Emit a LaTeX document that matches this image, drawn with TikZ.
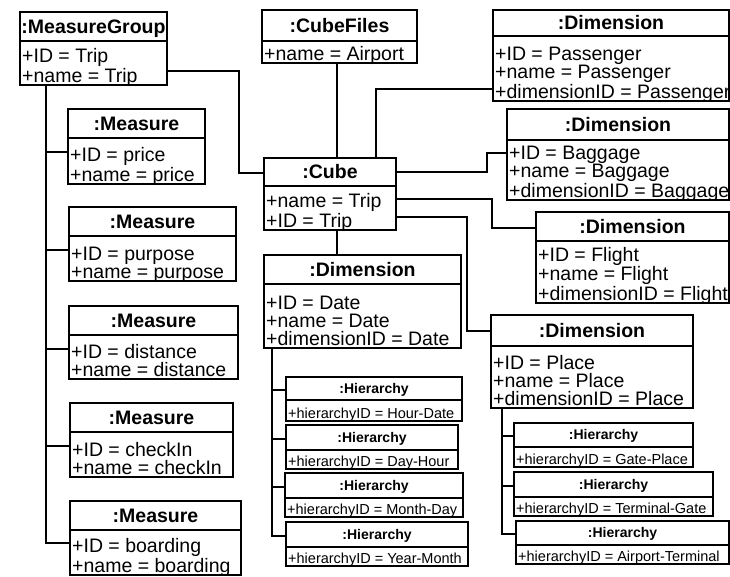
\documentclass[tikz,border=0pt]{standalone}
\usepackage{fontspec}
\setmainfont{Liberation Sans}
\usetikzlibrary{calc}

\tikzset{
  objframe/.style={draw, rectangle, line width=1.7pt, inner sep=0pt, outer sep=0pt, anchor=north west},
  objrule/.style={line width=1.4pt},
  objtitle/.style={font=\fontsize{19.5}{18}\selectfont\bfseries, anchor=base, inner sep=0pt},
  objbody/.style={font=\fontsize{19.5}{18}\selectfont, anchor=base west, align=left, inner sep=0pt},
  hiertitle/.style={font=\fontsize{14}{14}\selectfont\bfseries, anchor=base, inner sep=0pt},
  hierbody/.style={font=\fontsize{14.5}{15}\selectfont, anchor=base west, inner sep=0pt},
  link/.style={line width=1.7pt},
}

% \objbox{name}{left}{top}{right}{rule}{bottom}{title}{attributes}
% the attribute block sits on its last baseline, just above the bottom edge
\newcommand\objbox[8]{%
  \node[objframe, minimum width={#4-#2}, minimum height={#6-#3}] (#1) at (#2,#3) {};
  \draw[objrule] (#2,#5) coordinate (#1-sep) -- (#4,#5);
  \node[objtitle] (#1-t) at ({(#2+#4)/2},{(#3+#5)/2+6.8}) {#7};
  \node[objbody] (#1-b) at (#2+2,#6-3) {#8};
}
% \hierbox{name}{left}{top}{right}{rule}{bottom}{title}{attribute}
\newcommand\hierbox[8]{%
  \node[objframe, line width=1.5pt, minimum width={#4-#2}, minimum height={#6-#3}] (#1) at (#2,#3) {};
  \draw[objrule, line width=1.2pt] (#2,#5) coordinate (#1-sep) -- (#4,#5);
  \node[hiertitle] (#1-t) at ({(#2+#4)/2},{(#3+#5)/2+4.8}) {#7};
  \node[hierbody] (#1-b) at (#2+2,#6-2.5) {#8};
}

\begin{document}
\begin{tikzpicture}[x=1pt, y=-1pt]
\fill[white] (0,0) rectangle (730,576);
\useasboundingbox (0,0) rectangle (730,576);

% measure group and its measures
\objbox{mg}{20}{12}{167}{41}{85}{:MeasureGroup}{+ID = Trip\\+name = Trip}
\objbox{price}{68}{109}{205}{138}{184}{:Measure}{+ID = price\\+name = price}
\objbox{purpose}{69}{207}{236}{236}{281}{:Measure}{+ID = purpose\\+name = purpose}
\objbox{distance}{69}{306}{238}{335}{379}{:Measure}{+ID = distance\\+name = distance}
\objbox{checkin}{70}{403}{233}{432}{477}{:Measure}{+ID = checkIn\\+name = checkIn}
\objbox{boarding}{70}{501}{241}{530}{575}{:Measure}{+ID = boarding\\+name = boarding}

% cube, its file and its dimensions
\objbox{files}{262}{10}{417}{41}{63}{:CubeFiles}{+name = Airport}
\objbox{cube}{264}{158}{396}{186}{230}{:Cube}{+name = Trip\\+ID = Trip}
\objbox{passenger}{493}{10}{729}{36}{101}{:Dimension}{+ID = Passenger\\+name = Passenger\\+dimensionID = Passenger}
\objbox{baggage}{507}{109}{729}{140}{200}{:Dimension}{+ID = Baggage\\+name = Baggage\\+dimensionID = Baggage}
\objbox{flight}{536}{212}{729}{241}{303}{:Dimension}{+ID = Flight\\+name = Flight\\+dimensionID = Flight}
\objbox{date}{264}{255}{461}{284}{348}{:Dimension}{+ID = Date\\+name = Date\\+dimensionID = Date}
\objbox{place}{491}{315}{693}{346}{408}{:Dimension}{+ID = Place\\+name = Place\\+dimensionID = Place}

% hierarchies of the date dimension
\hierbox{hd1}{286}{377}{462}{400}{421}{:Hierarchy}{+hierarchyID = Hour-Date}
\hierbox{hd2}{286}{425}{458}{450}{469}{:Hierarchy}{+hierarchyID = Day-Hour}
\hierbox{hd3}{285}{473}{463}{498}{517}{:Hierarchy}{+hierarchyID = Month-Day}
\hierbox{hd4}{286}{522}{468}{547}{566}{:Hierarchy}{+hierarchyID = Year-Month}

% hierarchies of the place dimension
\hierbox{hp1}{514}{423}{693}{447}{467}{:Hierarchy}{+hierarchyID = Gate-Place}
\hierbox{hp2}{514}{472}{713}{497}{516}{:Hierarchy}{+hierarchyID = Terminal-Gate}
\hierbox{hp3}{516}{521}{729}{545}{564}{:Hierarchy}{+hierarchyID = Airport-Terminal}

% measure group tree
\coordinate (mgtrunk) at ([xshift=26pt]mg.south west);
\coordinate (boarding-in) at ([yshift=-13pt]boarding-sep);
\draw[link] (mgtrunk) |- (boarding-in);
\foreach \m in {price,purpose,distance,checkin}{
  \coordinate (\m-in) at ([yshift=-14pt]\m-sep);
  \draw[link] (\m-in -| mgtrunk) -- (\m-in);
}

% links of the cube
\draw[link] ([yshift=14pt]mg.south east) -| ([xshift=-25pt,yshift=-15pt]cube.north west) -- ([yshift=-15pt]cube.north west);
\coordinate (filesport) at ([xshift=-2.5pt]files.south);
\draw[link] (filesport) -- (filesport |- cube.north);
\draw[link] ([yshift=12pt]passenger.south west) -| ([xshift=46pt]cube.north);
\draw[link] ([yshift=22pt]cube.east) -| ([xshift=-20pt,yshift=-44pt]baggage.north west) -- ([yshift=-44pt]baggage.north west);
\draw[link] ([yshift=-5pt]cube.east) -| ([xshift=-44pt,yshift=-16pt]flight.north west) -- ([yshift=-16pt]flight.north west);
\draw[link] ([yshift=-23pt]cube.east) -| ([xshift=-24pt,yshift=-16pt]place.north west) -- ([yshift=-16pt]place.north west);
\coordinate (dateport) at ([xshift=7pt]cube.south);
\draw[link] (dateport) -- (dateport |- date.north);

% date hierarchy tree
\coordinate (dtrunk) at ([xshift=8pt]date.south west);
\draw[link] (dtrunk) |- (hd4.west |- hd4-t);
\foreach \h in {hd1,hd2,hd3}{
  \draw[link] (dtrunk |- \h-t) -- (\h.west |- \h-t);
}

% place hierarchy tree
\coordinate (ptrunk) at ([xshift=11pt]place.south west);
\draw[link] (ptrunk) |- (hp3.west |- hp3-t);
\foreach \h in {hp1,hp2}{
  \draw[link] (ptrunk |- \h-t) -- (\h.west |- \h-t);
}
\end{tikzpicture}
\end{document}
